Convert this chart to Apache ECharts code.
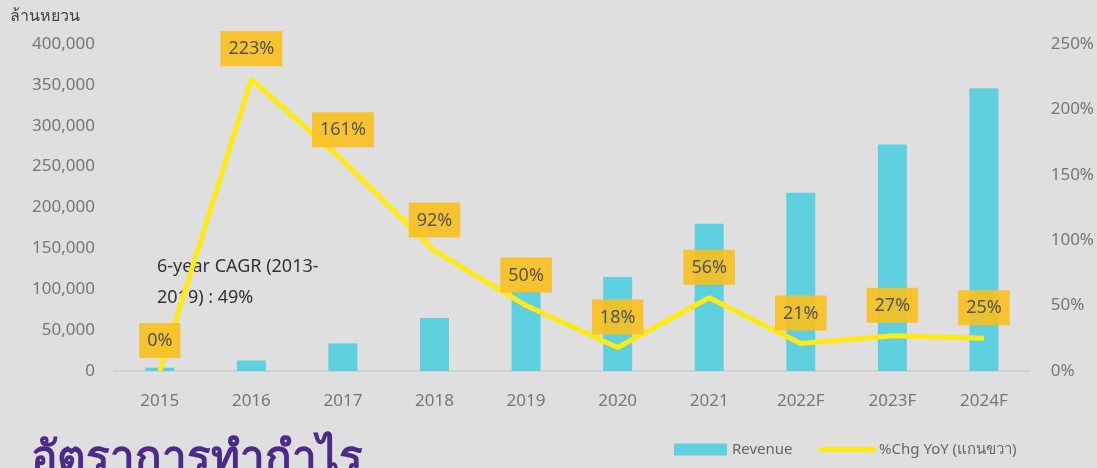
<!DOCTYPE html>
<html>
<head>
<meta charset="utf-8">
<script src="https://cdn.jsdelivr.net/npm/echarts@6/dist/echarts.min.js"></script>
<style>
  html, body { margin: 0; padding: 0; background: #dfdfdf; }
  #chart { width: 1097px; height: 468px; }
</style>
</head>
<body>
<div id="chart"></div>
<script>
const years = ['2015', '2016', '2017', '2018', '2019', '2020', '2021', '2022F', '2023F', '2024F']
const revenue = [4000, 12900, 33700, 64700, 97500, 115000, 180000, 218000, 277000, 346000]
const yoy = [0, 223, 161, 92, 50, 18, 56, 21, 27, 25]

const FONT = '"Noto Sans", "DejaVu Sans", sans-serif'

const chart = echarts.init(document.getElementById('chart'))

chart.setOption({
  backgroundColor: '#dfdfdf',
  textStyle: { fontFamily: FONT },
  grid: { left: 114, right: 66, top: 44, bottom: 97 },
  legend: {
    left: 669,
    bottom: 6,
    itemWidth: 53,
    itemHeight: 12,
    itemGap: 26,
    textStyle: { color: '#666', fontSize: 15 },
    data: [
      { name: 'Revenue', icon: 'rect' },
      {
        name: '%Chg YoY (แกนขวา)',
        itemStyle: { opacity: 0 },
        lineStyle: { width: 5, cap: 'round', color: '#ffea14' }
      }
    ]
  },
  xAxis: {
    type: 'category',
    data: years,
    axisLine: { lineStyle: { color: '#d2d2d2', width: 2 } },
    axisTick: { show: false },
    axisLabel: { color: '#777', fontSize: 17, margin: 22 }
  },
  yAxis: [
    {
      type: 'value',
      min: 0,
      max: 400000,
      interval: 50000,
      name: 'ล้านหยวน',
      nameLocation: 'end',
      nameGap: 20,
      nameTextStyle: { color: '#444', fontSize: 16, align: 'left', padding: [0, 0, 0, -104] },
      splitLine: { show: false },
      axisLine: { show: false },
      axisLabel: {
        color: '#777', fontSize: 17, margin: 19,
        formatter: (v) => v.toLocaleString('en-US')
      }
    },
    {
      type: 'value',
      min: 0,
      max: 250,
      interval: 50,
      splitLine: { show: false },
      axisLine: { show: false },
      axisLabel: { color: '#777', fontSize: 17, margin: 21, formatter: '{value}%' }
    }
  ],
  graphic: [
    {
      type: 'text',
      left: 157,
      top: 251,
      style: {
        text: '6-year CAGR (2013-\n2019) : 49%',
        fill: '#333',
        font: '18px ' + FONT,
        lineHeight: 31
      }
    },
    {
      type: 'text',
      left: 31,
      top: 437,
      style: {
        text: 'อัตราการทำกำไร',
        fill: '#4b2a8a',
        font: 'bold 44px ' + FONT
      }
    }
  ],
  series: [
    {
      name: 'Revenue',
      type: 'bar',
      data: revenue,
      barWidth: 29,
      itemStyle: { color: '#5fd0e0' }
    },
    {
      name: '%Chg YoY (แกนขวา)',
      type: 'line',
      yAxisIndex: 1,
      data: yoy,
      symbol: 'circle',
      symbolSize: 0.1,
      showSymbol: true,
      itemStyle: { color: '#ffea14' },
      lineStyle: { color: '#ffea14', width: 5 },
      label: {
        show: true,
        position: 'top',
        distance: 13,
        formatter: '{c}%',
        color: '#555',
        fontSize: 18,
        backgroundColor: 'rgba(249, 192, 30, 0.9)',
        padding: [9, 8, 8, 8]
      },
      z: 3
    }
  ]
})
</script>
</body>
</html>
